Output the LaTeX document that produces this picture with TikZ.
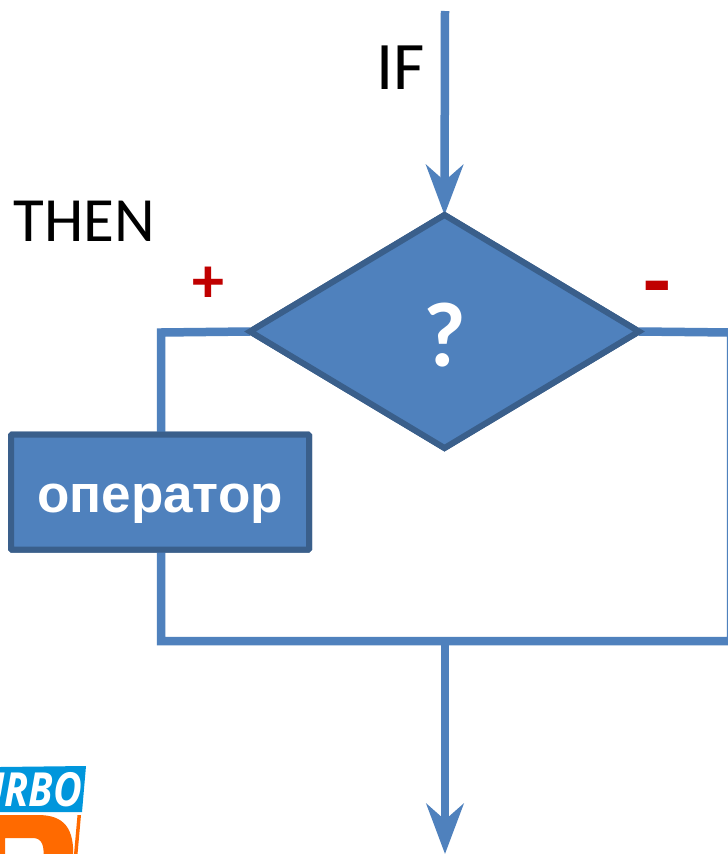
\documentclass[tikz,border=0pt]{standalone}
\usepackage{fontspec}
\setmainfont{Carlito}
\newfontfamily\opfont{Liberation Sans}
\newfontfamily\logofont{Open Sans}
\usetikzlibrary{shapes.geometric,arrows.meta}
\definecolor{flow}{HTML}{4F81BD}
\definecolor{edge}{HTML}{3A5F8B}
\definecolor{signred}{HTML}{C00000}
\definecolor{logoblue}{HTML}{0096DC}
\definecolor{logoorange}{HTML}{FF6A00}
\tikzset{
  link/.style={draw=flow,line width=8.5pt,line join=miter},
  linkarrow/.style={link,-{Stealth[length=50pt,width=37pt,inset=16pt]}},
  shapeedge/.style={draw=edge,fill=flow,line width=6pt,text=white},
  decision/.style={shapeedge,diamond,aspect=1.67,inner sep=0pt,outer sep=0pt,minimum width=389pt,minimum height=233pt,font=\fontsize{92}{92}\selectfont\bfseries},
  action/.style={shapeedge,rectangle,rounded corners=1pt,inner sep=0pt,outer sep=0pt,minimum width=298pt,minimum height=115pt,font=\opfont\fontsize{53}{53}\selectfont\bfseries},
  caption/.style={text=black,inner sep=0pt,font=\fontsize{63}{63}\selectfont},
  sign/.style={text=signred,inner sep=0pt,font=\bfseries}
}
\begin{document}
\begin{tikzpicture}[x=1pt,y=-1pt]
\useasboundingbox (0,0) rectangle (728,854);
\fill[white] (0,0) rectangle (728,854);
% logo
\fill[logoblue] (0,767) -- (86,766) -- (82,812) -- (0,812) -- cycle;
\begin{scope}
\clip (0,767) -- (86,766) -- (82,812) -- (0,812) -- cycle;
\node[anchor=east,inner sep=0pt,text=white,xscale=0.84,font=\logofont\fontsize{47}{47}\selectfont\bfseries\itshape] (logotext) at (82,790) {URBO};
\end{scope}
\begin{scope}
\clip (0,810) rectangle (100,854);
\fill[logoorange,even odd rule] (0,815) -- (38,815) .. controls (64,815) and (75,828) .. (73,860) -- (0,860) -- cycle
  (5,838) -- (33,838) .. controls (42,838) and (45,846) .. (43,860) -- (5,860) -- cycle;
\fill[logoorange] (77.5,815) -- (81,815) -- (77,860) -- (73.5,860) -- cycle;
\end{scope}
% free ends
\coordinate (start) at (445,11);
\coordinate (join) at (445,640);
\coordinate (finish) at (445,854);
\coordinate (lefttop) at (161,332.5);
\coordinate (leftbottom) at (161,641);
\coordinate (righttop) at (731,332.5);
\coordinate (rightbottom) at (731,641);
% nodes
\node[decision] (q) at (444.5,331.5) {\raisebox{-35pt}[0pt][0pt]{?}};
\node[action] (op) at (160,492) {\raisebox{-20pt}[0pt][0pt]{оператор}};
% connectors
\draw[linkarrow] (start) -- (q.north);
\draw[link] (q.west) -- (lefttop) -- (lefttop |- op.north);
\draw[link] (leftbottom |- op.south) -- (leftbottom) -- (rightbottom) -- (righttop) -- (q.east);
\draw[linkarrow] (join) -- (finish);
% redraw shapes above connectors
\node[decision] at (444.5,331.5) {\raisebox{-35pt}[0pt][0pt]{?}};
\node[action] at (160,492) {\raisebox{-20pt}[0pt][0pt]{оператор}};
% labels
\node[caption,font=\fontsize{68}{68}\selectfont] (iflabel) at (400.5,68) {IF};
\node[caption] (thenlabel) at (84.5,221) {THEN};
\node[sign,font=\fontsize{64}{64}\selectfont\bfseries] (plus) at (208,285) {+};
\node[sign,font=\fontsize{90}{90}\selectfont\bfseries] (minus) at (657,296) {-};
\end{tikzpicture}
\end{document}
